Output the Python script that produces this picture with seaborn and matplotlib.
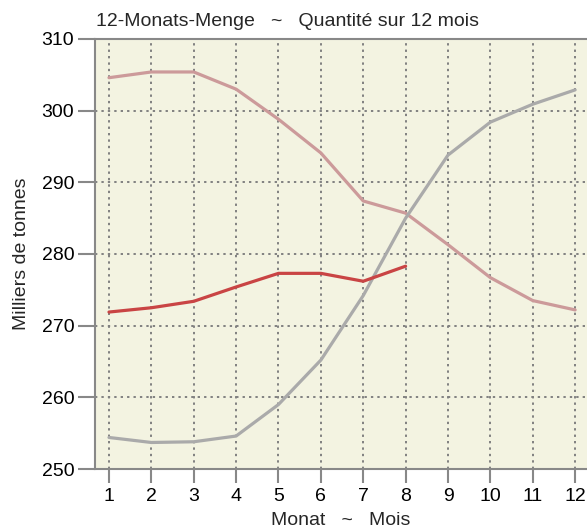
import matplotlib
matplotlib.use('Agg')
import matplotlib.pyplot as plt
import seaborn as sns
import pandas as pd

sns.set_style('white')
plt.rcParams['font.family'] = ['Liberation Sans', 'DejaVu Sans']

months = list(range(1, 13))
pink = [304.6, 305.4, 305.4, 303.0, 298.8, 294.1, 287.4, 285.7, 281.3, 276.7, 273.5, 272.2]
grey = [254.4, 253.7, 253.8, 254.6, 259.0, 265.2, 274.2, 285.0, 293.8, 298.4, 300.9, 302.9]
red = [271.9, 272.5, 273.4, 275.4, 277.3, 277.3, 276.2, 278.3]

fig = plt.figure(figsize=(5.87, 5.29), dpi=100)
ax = fig.add_axes([95/587, 60/529, 492/587, 430/529])
ax.set_facecolor('#f3f3e1')

sns.lineplot(x=months, y=pink, ax=ax, color='#cc9a9a', lw=2.3)
sns.lineplot(x=months, y=grey, ax=ax, color='#aaaaaa', lw=2.3)
sns.lineplot(x=months[:8], y=red, ax=ax, color='#c94444', lw=2.3)

ax.set_xlim(0.67, 12.28)
ax.set_ylim(250, 310)
ax.set_xticks(months)
ax.set_yticks(range(250, 311, 10))
ax.grid(True, color='#808080', ls=(0, (1.2, 2.1)), lw=1.4)
ax.set_axisbelow(True)

for s in ['left', 'top', 'bottom']:
    ax.spines[s].set_color('#888888')
    ax.spines[s].set_linewidth(1.5)
ax.spines['right'].set_visible(False)
ax.tick_params(axis='both', colors='#888888', labelcolor='black', labelsize=14,
               width=1.5, bottom=True, left=True)
ax.tick_params(axis='y', length=12, pad=3)
ax.tick_params(axis='x', length=10, pad=4)

ax.set_xlabel('Monat   ~   Mois', fontsize=14, labelpad=5)
ax.set_ylabel('Milliers de tonnes', fontsize=14, labelpad=8)
fig.text(96/587, 1 - 21/529, '12-Monats-Menge   ~   Quantité sur 12 mois',
         fontsize=14, va='center', ha='left')

fig.savefig('out.png', dpi=100)
